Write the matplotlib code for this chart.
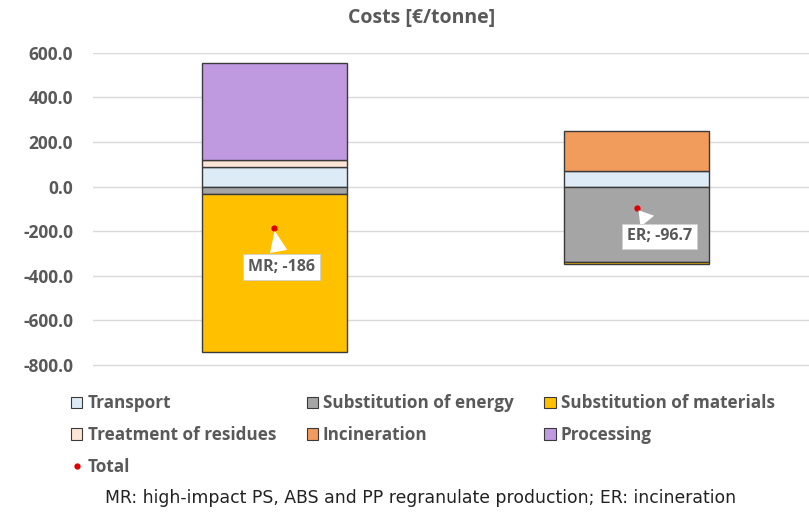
import matplotlib.pyplot as plt
from matplotlib.patches import Patch
from matplotlib.lines import Line2D

# cost breakdown per route [EUR/tonne]
routes = ["MR", "ER"]
transport = [89.0, 71.0]
subst_energy = [-33.0, -339.0]
subst_materials = [-708.0, -8.0]
treatment_residues = [32.0, 0.0]
incineration = [0.0, 179.3]
processing = [434.0, 0.0]
totals = [-186.0, -96.7]
total_labels = ["MR; -186", "ER; -96.7"]

yticks = [600, 400, 200, 0, -200, -400, -600, -800]

GREY = "#595959"
EDGE = "#3a3a3a"

series = [
    ("Transport", transport, "#DDEBF7"),
    ("Substitution of energy", subst_energy, "#A5A5A5"),
    ("Substitution of materials", subst_materials, "#FFC000"),
    ("Treatment of residues", treatment_residues, "#FBE5D6"),
    ("Incineration", incineration, "#F19B5C"),
    ("Processing", processing, "#BF9AE0"),
]

plt.rcParams["font.family"] = ["Open Sans", "DejaVu Sans"]

W, H = 809, 513
fig = plt.figure(figsize=(W / 100, H / 100), dpi=100)
# plot area runs a little past the right edge of the figure
ax = fig.add_axes([93 / W, 1 - 367.2 / H, 725 / W, 314.5 / H])

x = list(range(len(routes)))
pos_base = [0.0] * len(routes)
neg_base = [0.0] * len(routes)
for name, vals, col in series:
    for i, v in enumerate(vals):
        if v == 0:
            continue
        if v > 0:
            ax.bar(x[i], v, 0.4, bottom=pos_base[i], color=col,
                   edgecolor=EDGE, linewidth=1, zorder=2)
            pos_base[i] += v
        else:
            ax.bar(x[i], v, 0.4, bottom=neg_base[i], color=col,
                   edgecolor=EDGE, linewidth=1, zorder=2)
            neg_base[i] += v

ax.plot(x, totals, "o", color="#E00000", markersize=3.5, zorder=4,
        linestyle="none")

# callout labels for the totals
label_pos = [(0.02, -362), (1.063, -224)]
for i, t in enumerate(totals):
    ax.annotate(total_labels[i], xy=(x[i], t), xytext=label_pos[i],
                ha="center", va="center", fontsize=11.5, fontweight="bold",
                color=GREY, zorder=5,
                bbox=dict(boxstyle="square,pad=0.3", fc="white", ec="#d0d0d0", lw=0.6),
                arrowprops=dict(arrowstyle="wedge,tail_width=1.1,shrink_factor=0.5",
                                fc="white", ec="none"))

ax.set_xlim(-0.5, 1.5)
ax.set_ylim(-810, 600)
ax.set_yticks(yticks)
ax.set_yticklabels([f"{v:.1f}" for v in yticks], fontsize=12.5,
                   fontweight="bold", color=GREY)
ax.set_xticks([])
ax.tick_params(axis="y", length=0, pad=14.4)
ax.grid(axis="y", color="#d9d9d9", linewidth=1, zorder=0)
for s in ax.spines.values():
    s.set_visible(False)

fig.text(422 / W, 1 - 18 / H, "Costs [€/tonne]", ha="center", va="center",
         fontsize=14, fontweight="bold", color=GREY)

handles = [Patch(facecolor=c, edgecolor=EDGE, linewidth=0.8, label=n)
           for n, _, c in series]
total_handle = Line2D([], [], marker="o", color="#E00000", linestyle="none",
                      markersize=3.5, label="Total")
order = [handles[0], handles[3], total_handle,
         handles[1], handles[4], handles[2], handles[5]]
leg = fig.legend(handles=order, ncol=3, loc="upper left",
                 bbox_to_anchor=(56 / W, 1 - 379 / H), frameon=False,
                 prop=dict(size=12.3, weight="bold"), handlelength=0.65,
                 handleheight=0.65, handletextpad=0.3, columnspacing=1.8,
                 labelspacing=0.8)
for txt in leg.get_texts():
    txt.set_color(GREY)

fig.text(421 / W, 1 - 498 / H,
         "MR: high-impact PS, ABS and PP regranulate production; ER: incineration",
         ha="center", va="center", fontsize=12.4,
         family=["Liberation Sans Narrow", "DejaVu Sans"], color="#222222")

fig.savefig("out.png", dpi=100)
